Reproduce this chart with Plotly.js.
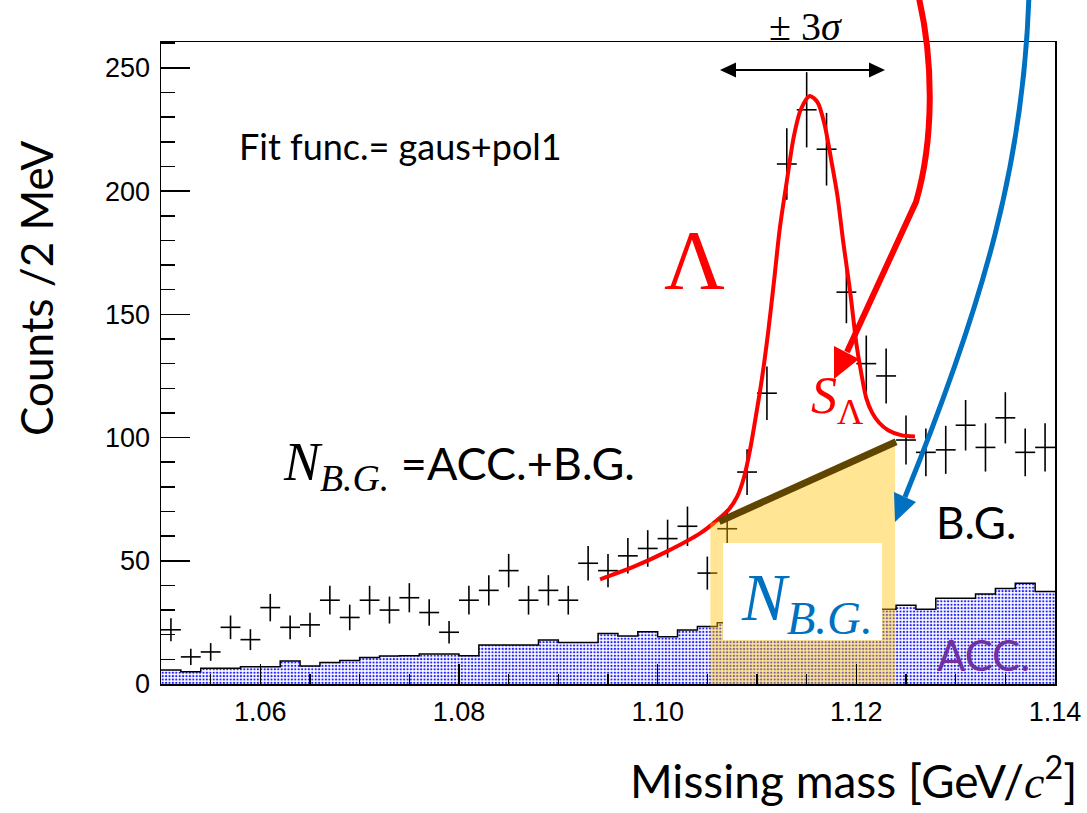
<!DOCTYPE html>
<html>
<head>
<meta charset="utf-8">
<script src="https://cdn.plot.ly/plotly-3.0.1.min.js"></script>
<style>
  html, body { margin: 0; padding: 0; background: #ffffff; }
  #chart { width: 1087px; height: 813px; }
</style>
</head>
<body>
<div id="chart"></div>
<script>
// Missing-mass histograms: 45 bins of 2 MeV from 1.05 to 1.14 GeV/c^2
const massMin = 1.05;
const binWidth = 0.002;

// Observed counts per bin
const counts = [22, 11, 13, 23, 18, 31, 23, 24, 34, 27,
                34, 30, 35, 29, 21, 34, 38, 46, 34, 38,
                34, 49, 46, 52, 55, 59, 64, 45, 63, 86,
                118, 211, 233, 217, 159, 130, 125, 99, 94, 95,
                105, 96, 108, 94, 96];

// Accidental-coincidence (ACC.) estimate per bin
const accidentals = [5.7, 5.0, 6.4, 6.4, 7.0, 7.0, 9.3, 7.3, 8.7, 9.5,
                     10.8, 11.4, 11.5, 12.2, 12.2, 11.5, 15.8, 15.8, 15.8, 17.9,
                     16.8, 16.8, 20.5, 19.5, 21.2, 19.2, 21.9, 23.3, 24.9, 25.6,
                     26.8, 26.1, 27.9, 28.4, 29.6, 29.1, 30.3, 32.0, 30.3, 34.8,
                     34.8, 36.5, 38.8, 40.9, 37.5];

// Fitted gaus+pol1 curve
const fitMass = [1.0942, 1.0976, 1.1009, 1.1043, 1.1060, 1.1072, 1.1080, 1.1087, 1.1093, 1.1099,
                 1.1105, 1.1111, 1.1117, 1.1123, 1.1130, 1.1137, 1.1144, 1.1153, 1.1161, 1.1168,
                 1.1175, 1.1181, 1.1187, 1.1194, 1.1200, 1.1205, 1.1210, 1.1216, 1.1223, 1.1232,
                 1.1245, 1.1259];
const fitCounts = [42.5, 47.6, 53.7, 61.2, 66.5, 71, 76, 84, 95, 109,
                   124, 142, 163, 185, 204, 222, 233, 238.6, 236, 227,
                   212, 198, 178.8, 158.5, 138.2, 126, 116, 110, 106, 103,
                   101, 100.4];

// pol1 background under the peak and the +-3 sigma window
const bgMass = [1.1062, 1.1240];
const bgCounts = [65.9, 98.3];
const windowMass = [1.1053, 1.1239];

// Axis ticks
const xTicks = [1.06, 1.08, 1.10, 1.12, 1.14];
const xTickText = ['1.06', '1.08', '1.10', '1.12', '1.14'];
const yTicks = [0, 50, 100, 150, 200, 250];

// ---- derived geometry of the bins ----
const nBins = counts.length;
const binCenters = counts.map((_, i) => +(massMin + binWidth * (i + 0.5)).toFixed(4));
const binEdges = accidentals.map((_, i) => +(massMin + binWidth * i).toFixed(4));
const stepX = binEdges.concat([+(massMin + binWidth * nBins).toFixed(4)]);
const stepY = accidentals.concat([accidentals[accidentals.length - 1]]);

// ---- pixel -> paper helpers for the decorations ----
const FIG_W = 1087, FIG_H = 813;
const M = { l: 161, r: 32, t: 42, b: 129 };
const PW = FIG_W - M.l - M.r, PH = FIG_H - M.t - M.b;
const px = x => (x - M.l) / PW;
const py = y => (FIG_H - M.b - y) / PH;
function pathFrom(cmds) {
  return cmds.map(c => {
    const op = c[0];
    const pts = [];
    for (let i = 1; i < c.length; i += 2) pts.push(px(c[i]).toFixed(5) + ',' + py(c[i + 1]).toFixed(5));
    return op + ' ' + pts.join(' ');
  }).join(' ');
}

const SERIF = 'Liberation Serif';
const SANS = 'Lato';

const traces = [
  {
    // ACC. histogram
    type: 'scatter', mode: 'lines', x: stepX, y: stepY,
    line: { shape: 'hv', color: '#000000', width: 1.5 },
    fill: 'tozeroy',
    fillcolor: 'rgba(0,0,0,0)',
    fillpattern: { shape: '.', fgcolor: '#2020ff', bgcolor: '#ffffff', size: 3.4, solidity: 0.36 },
    hoverinfo: 'skip'
  },
  {
    // data with statistical errors
    type: 'scatter', mode: 'markers', x: binCenters, y: counts,
    marker: { size: 2, color: '#000000', opacity: 0 },
    error_y: { type: 'sqrt', color: '#000000', thickness: 1.6, width: 0 },
    error_x: { type: 'constant', value: binWidth / 2, color: '#000000', thickness: 1.6, width: 0 }
  },
  {
    // fit function
    type: 'scatter', mode: 'lines', x: fitMass, y: fitCounts,
    line: { color: '#ff0000', width: 4, shape: 'spline', smoothing: 0.8 }
  },
  {
    // N_B.G. window region (under the pol1 line)
    type: 'scatter', mode: 'lines',
    x: [windowMass[0], windowMass[0], bgMass[0], windowMass[1], windowMass[1], windowMass[0]],
    y: [0, bgCounts[0] - 0.6, bgCounts[0], bgCounts[1], 0, 0],
    fill: 'toself', fillcolor: 'rgba(255,192,0,0.42)',
    line: { width: 0, color: 'rgba(0,0,0,0)' }
  },
  {
    // pol1 background line
    type: 'scatter', mode: 'lines', x: bgMass, y: bgCounts,
    line: { color: '#5f4500', width: 7 }
  }
];

const red = '#ff0000', blue = '#0070c0';
const shapes = [
  // white box behind the N_B.G. label
  { type: 'rect', xref: 'paper', yref: 'paper', x0: px(723), x1: px(882), y0: py(640), y1: py(543),
    fillcolor: '#ffffff', line: { width: 0 }, layer: 'above' },
  // +-3 sigma double arrow
  { type: 'line', xref: 'paper', yref: 'paper', x0: px(732), x1: px(873), y0: py(70), y1: py(70),
    line: { color: '#000000', width: 2 }, layer: 'above' },
  { type: 'path', xref: 'paper', yref: 'paper', path: pathFrom([['M', 720, 70], ['L', 736, 62.5], ['L', 736, 77.5]]) + ' Z',
    fillcolor: '#000000', line: { width: 0 }, layer: 'above' },
  { type: 'path', xref: 'paper', yref: 'paper', path: pathFrom([['M', 885, 70], ['L', 869, 62.5], ['L', 869, 77.5]]) + ' Z',
    fillcolor: '#000000', line: { width: 0 }, layer: 'above' },
  // red arrow pointing at S_Lambda
  { type: 'path', xref: 'paper', yref: 'paper',
    path: pathFrom([['M', 918, -6], ['C', 934, 60, 934, 140, 916, 202], ['L', 847, 352]]),
    line: { color: red, width: 6 }, layer: 'above' },
  { type: 'path', xref: 'paper', yref: 'paper',
    path: pathFrom([['M', 834, 379], ['L', 859, 359], ['L', 834, 346]]) + ' Z',
    fillcolor: red, line: { width: 0 }, layer: 'above' },
  // blue arrow pointing at the background window
  { type: 'path', xref: 'paper', yref: 'paper',
    path: pathFrom([['M', 1029, -6], ['C', 1024, 160, 985, 300, 905, 497]]),
    line: { color: blue, width: 5 }, layer: 'above' },
  { type: 'path', xref: 'paper', yref: 'paper',
    path: pathFrom([['M', 895, 522], ['L', 916, 502], ['L', 894, 492]]) + ' Z',
    fillcolor: blue, line: { width: 0 }, layer: 'above' }
];

function note(text, x, y, size, color, family, opts) {
  return Object.assign({
    text: text, xref: 'paper', yref: 'paper', x: px(x), y: py(y),
    xanchor: 'left', yanchor: 'middle', showarrow: false,
    font: { family: family, size: size, color: color }
  }, opts || {});
}

const annotations = [
  note('± 3<i>σ</i>', 805, 26, 40, '#000000', SERIF, { xanchor: 'center' }),
  note('Fit func.= gaus+pol1', 237, 146, 36, '#000000', SANS),
  note('Λ', 694, 260, 84, red, SERIF, { xanchor: 'center' }),
  note('<i>S</i><sub>Λ</sub>', 809, 400, 52, red, SERIF),
  note('<span style="font-family:\'Liberation Serif\';font-size:54px"><i>N</i><sub><i>B.G.</i></sub></span> =ACC.+B.G.',
       281, 465, 45, '#000000', SANS),
  note('B.G.', 934, 522, 44, '#000000', SANS),
  note('<i>N</i><sub><i>B.G.</i></sub>', 739, 602, 67, blue, SERIF),
  note('ACC.', 935, 655, 42, '#7030a0', SANS),
  note('Counts /2 MeV', 36, 288, 44, '#000000', SANS, { xanchor: 'center', textangle: -90 }),
  note('Missing mass [GeV/<span style="font-family:\'Liberation Serif\'"><i>c</i></span><sup>2</sup>]',
       1079, 778, 46, '#000000', SANS, { xanchor: 'right' })
];

const axisCommon = {
  showline: true, mirror: true, linecolor: '#000000', linewidth: 1.5,
  showgrid: false, zeroline: false,
  ticks: 'inside', tickcolor: '#000000', tickwidth: 1.5,
  tickfont: { family: 'Liberation Sans', size: 27, color: '#000000' },
  automargin: false, fixedrange: true
};

const layout = {
  width: FIG_W, height: FIG_H,
  margin: M,
  paper_bgcolor: '#ffffff', plot_bgcolor: '#ffffff',
  showlegend: false,
  xaxis: Object.assign({}, axisCommon, {
    range: [massMin, massMin + binWidth * nBins],
    tickmode: 'array', tickvals: xTicks, ticktext: xTickText,
    ticklen: 20, ticklabelstandoff: 3,
    minor: { dtick: 0.005, tick0: 1.05, ticklen: 10, ticks: 'inside', tickcolor: '#000000', tickwidth: 1.5 }
  }),
  yaxis: Object.assign({}, axisCommon, {
    range: [0, 260.5],
    tickmode: 'array', tickvals: yTicks,
    ticklen: 29, ticklabelstandoff: 4,
    minor: { dtick: 10, tick0: 0, ticklen: 14, ticks: 'inside', tickcolor: '#000000', tickwidth: 1.5 }
  }),
  shapes: shapes,
  annotations: annotations
};

Plotly.newPlot('chart', traces, layout, { displayModeBar: false, staticPlot: true });
</script>
</body>
</html>
